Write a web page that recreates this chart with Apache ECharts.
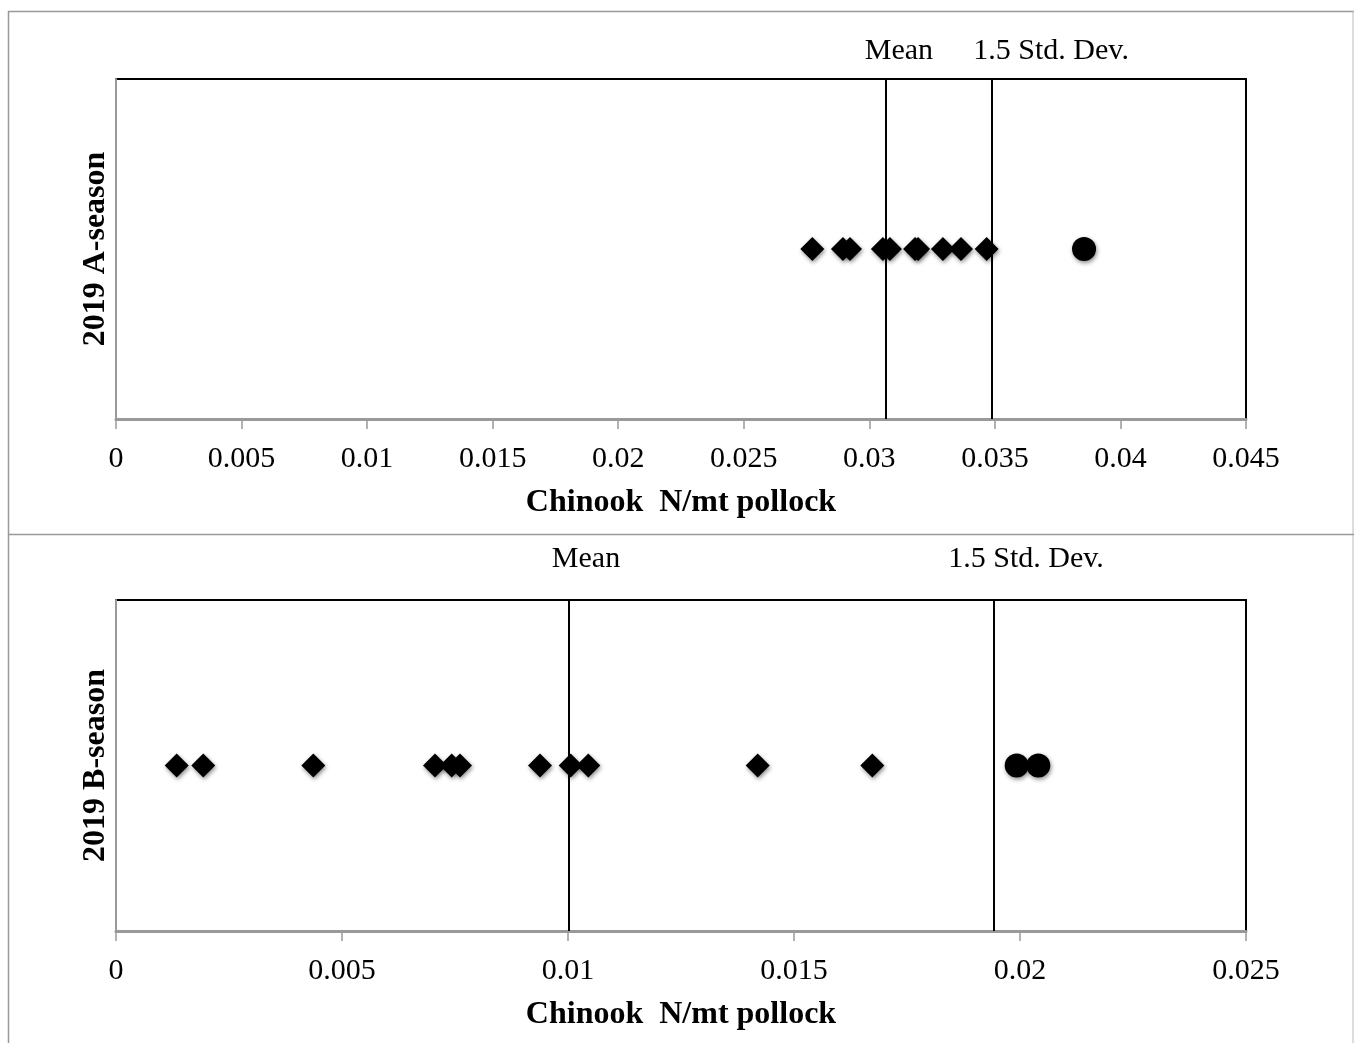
<!DOCTYPE html>
<html>
<head>
<meta charset="utf-8">
<style>html,body{margin:0;padding:0;background:#fff;}#c{width:1354px;height:1043px;}</style>
<script src="https://cdn.jsdelivr.net/npm/echarts@6/dist/echarts.min.js"></script>
</head>
<body>
<div id="c"></div>
<script>
// Panel A (2019 A-season)
const aTicks = [0, 0.005, 0.01, 0.015, 0.02, 0.025, 0.03, 0.035, 0.04, 0.045];
const aDiamonds = [0.02773, 0.02895, 0.02923, 0.03054, 0.03082, 0.03182, 0.03194, 0.03293, 0.03365, 0.03467];
const aCircles = [0.03855];
const aMean = 0.03066;
const aStd = 0.03489;
// Panel B (2019 B-season)
const bTicks = [0, 0.005, 0.01, 0.015, 0.02, 0.025];
const bDiamonds = [0.001343, 0.001931, 0.004365, 0.007058, 0.007427, 0.007611, 0.009381, 0.01006, 0.01045, 0.014197, 0.016732];
const bCircles = [0.019927, 0.020405];
const bMean = 0.010022;
const bStd = 0.019425;

const yNames = ['2019 A-season', '2019 B-season'];
const xName = 'Chinook  N/mt pollock';
const meanLabel = 'Mean';
const stdLabel = '1.5 Std. Dev.';

const FONT = '"Liberation Serif", "Times New Roman", serif';
const chart = echarts.init(document.getElementById('c'));

function xAx(idx, ticks) {
  return {
    type: 'value', gridIndex: idx, min: ticks[0], max: ticks[ticks.length - 1],
    interval: ticks[1] - ticks[0],
    name: xName, nameLocation: 'middle', nameGap: 68,
    nameTextStyle: { fontFamily: FONT, fontWeight: 'bold', fontSize: 32, color: '#000' },
    axisLine: { show: true, lineStyle: { color: '#999', width: 3 } },
    axisTick: { show: true, length: 10, lineStyle: { color: '#999', width: 1.5 } },
    axisLabel: { fontFamily: FONT, fontSize: 30, color: '#000', margin: 25,
      formatter: v => String(+v.toFixed(4)) },
    splitLine: { show: false }
  };
}
function yAx(idx) {
  return {
    type: 'value', gridIndex: idx, min: 0, max: 1,
    name: yNames[idx], nameLocation: 'middle', nameGap: 4,
    nameTextStyle: { fontFamily: FONT, fontWeight: 'bold', fontSize: 32, color: '#000' },
    axisLine: { show: true, lineStyle: { color: '#999', width: 2 } },
    axisTick: { show: false }, axisLabel: { show: false }, splitLine: { show: false }
  };
}
const style = { color: '#000', opacity: 1, shadowBlur: 4, shadowOffsetX: 1, shadowOffsetY: 2, shadowColor: 'rgba(0,0,0,0.45)' };
function pts(arr) { return arr.map(v => [v, 0.5]); }
function lines(mean, std, offs) {
  return {
    silent: true, symbol: 'none', precision: 8,
    lineStyle: { color: '#000', width: 2, type: 'solid' },
    label: { show: true, position: 'end', fontFamily: FONT, fontSize: 30, color: '#000' },
    data: [
      { xAxis: mean, label: { formatter: meanLabel, offset: offs[0] } },
      { xAxis: std, label: { formatter: stdLabel, offset: offs[1] } }
    ]
  };
}

chart.setOption({
  animation: false,
  graphic: [
    { type: 'line', shape: { x1: 8, y1: 11.5, x2: 1354, y2: 11.5 }, style: { stroke: '#999', lineWidth: 1.5 } },
    { type: 'line', shape: { x1: 8.5, y1: 11, x2: 8.5, y2: 1043 }, style: { stroke: '#999', lineWidth: 1.5 } },
    { type: 'line', shape: { x1: 1353, y1: 11, x2: 1353, y2: 1043 }, style: { stroke: '#bbb', lineWidth: 1 } },
    { type: 'line', shape: { x1: 8, y1: 534.5, x2: 1354, y2: 534.5 }, style: { stroke: '#999', lineWidth: 1.5 } }
  ],
  grid: [
    { left: 116, top: 79, width: 1130, height: 340, show: true, borderColor: '#000', borderWidth: 2, backgroundColor: 'transparent' },
    { left: 116, top: 600, width: 1130, height: 331, show: true, borderColor: '#000', borderWidth: 2, backgroundColor: 'transparent' }
  ],
  xAxis: [xAx(0, aTicks), xAx(1, bTicks)],
  yAxis: [yAx(0), yAx(1)],
  series: [
    { type: 'scatter', xAxisIndex: 0, yAxisIndex: 0, symbol: 'diamond', symbolSize: [24, 24],
      itemStyle: style, data: pts(aDiamonds),
      markLine: lines(aMean, aStd, [[13, -8], [59, -8]]) },
    { type: 'scatter', xAxisIndex: 0, yAxisIndex: 0, symbol: 'circle', symbolSize: 24,
      itemStyle: style, data: pts(aCircles) },
    { type: 'scatter', xAxisIndex: 1, yAxisIndex: 1, symbol: 'diamond', symbolSize: [24, 24],
      itemStyle: style, data: pts(bDiamonds),
      markLine: lines(bMean, bStd, [[17, -21], [32, -21]]) },
    { type: 'scatter', xAxisIndex: 1, yAxisIndex: 1, symbol: 'circle', symbolSize: 24,
      itemStyle: style, data: pts(bCircles) }
  ]
});
</script>
</body>
</html>
